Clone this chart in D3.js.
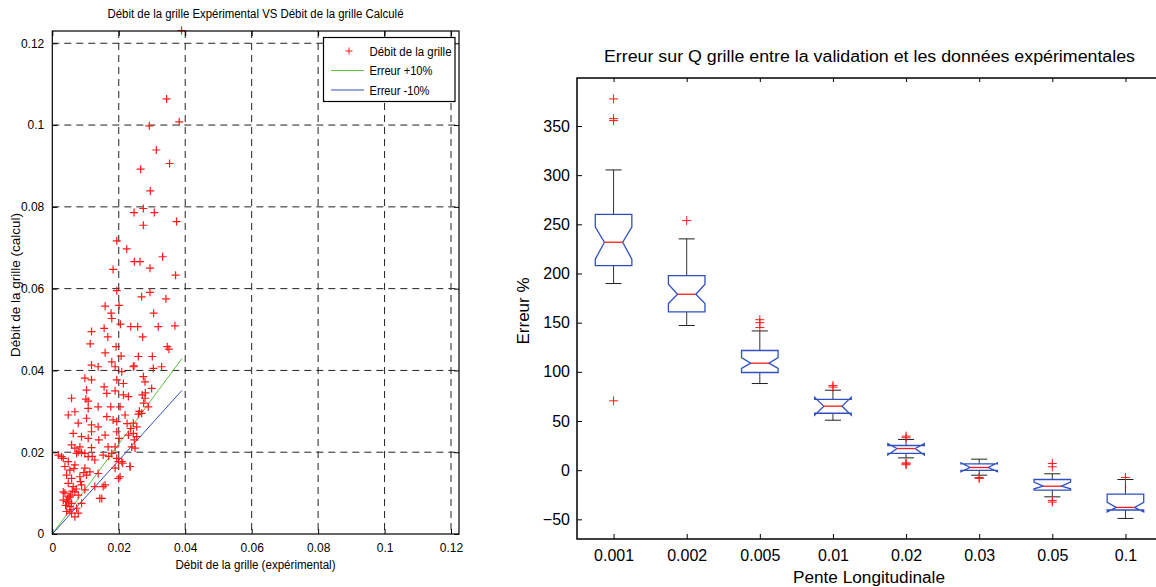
<!DOCTYPE html>
<html>
<head>
<meta charset="utf-8">
<script src="https://cdn.jsdelivr.net/npm/d3@7"></script>
<style>
  body { margin: 0; background: #fff; }
  svg { font-family: "Liberation Sans", Arial, sans-serif; }
</style>
</head>
<body>
<svg id="chart" width="1156" height="587"></svg>
<script>
// --- left chart: débit expérimental vs calculé (x, y pairs) ---
let debitExp = [
  0.0389,0.0344,0.0382,0.0292,0.0313,0.0353,0.0266,0.0295,
  0.0246,0.0274,0.0307,0.0274,0.0374,0.0194,0.0224,0.0247,0.0264,0.0332,0.0183,0.0294,0.0371,
  0.0194,0.0269,0.0294,0.0342,0.0159,0.0201,0.0177,0.0179,0.0305,0.0205,0.0156,0.0118,0.0236,
  0.0257,0.0319,0.0369,0.0167,0.0272,0.0114,0.0192,0.0346,0.0351,0.0159,0.0207,0.0259,0.0301,
  0.0179,0.0118,0.0138,0.0246,0.0329,0.0189,0.0244,0.0304,0.0209,0.0098,0.0118,0.0194,0.0214,
  0.0274,0.0279,0.0299,0.0156,0.0103,0.0189,0.0164,0.0058,0.0101,0.0108,0.0214,0.0229,0.0271,
  0.0279,0.0275,0.0289,0.0138,0.0108,0.0176,0.0204,0.0068,0.0048,0.0164,0.0219,0.0259,0.0269,
  0.0183,0.0194,0.0103,0.0078,0.0118,0.0138,0.0244,0.0254,0.0236,0.0063,0.0088,0.0108,0.0159,
  0.0194,0.0201,0.0229,0.0244,0.0254,0.0247,0.0058,0.0068,0.0083,0.0118,0.0168,0.0189,0.0239,
  0.0078,0.0098,0.0033,0.0048,0.0018,0.0073,0.0088,0.0108,0.0128,0.0153,0.0179,0.0209,0.0234,
  0.0194,0.0038,0.0053,0.0068,0.0098,0.0113,0.0043,0.0058,0.0083,0.0103,0.0204,0.0138,0.0048,
  0.0063,0.0088,0.0128,0.0159,0.0098,0.0038,0.0053,0.0068,0.0078,0.0143,0.0033,0.0048,0.0058,
  0.0053,0.0073,0.0088,0.0043,0.0058,0.0078,0.0068,0.0028,0.0033,0.0043,0.0053,0.0149,0.0153,
  0.0199,0.0189,0.0199,0.0212,0.0234,0.0249,0.0060,0.0050,0.0040,0.0065,0.0118,0.0140,0.0170,
  0.0225,0.0262,0.0280,0.0120,0.0095,0.0085,0.0072,0.0055,0.0045
];
let debitCalc = [
  0.1231,0.1064,0.1008,0.0998,0.0939,0.0906,0.0892,0.0839,
  0.0786,0.0796,0.0786,0.0755,0.0764,0.0717,0.0697,0.0666,0.0666,0.0678,0.0647,0.0650,0.0633,
  0.0595,0.0580,0.0591,0.0575,0.0557,0.0559,0.0540,0.0527,0.0540,0.0513,0.0503,0.0495,0.0507,
  0.0507,0.0507,0.0509,0.0482,0.0482,0.0465,0.0458,0.0458,0.0452,0.0443,0.0435,0.0434,0.0434,
  0.0421,0.0413,0.0409,0.0411,0.0409,0.0409,0.0409,0.0405,0.0397,0.0381,0.0377,0.0377,0.0368,
  0.0385,0.0372,0.0356,0.0360,0.0352,0.0350,0.0344,0.0332,0.0330,0.0325,0.0340,0.0336,0.0340,
  0.0332,0.0320,0.0311,0.0311,0.0307,0.0311,0.0311,0.0299,0.0291,0.0287,0.0291,0.0293,0.0295,
  0.0279,0.0275,0.0283,0.0271,0.0267,0.0262,0.0271,0.0262,0.0258,0.0246,0.0238,0.0234,0.0242,
  0.0250,0.0234,0.0242,0.0246,0.0238,0.0230,0.0218,0.0210,0.0213,0.0211,0.0213,0.0213,0.0213,
  0.0201,0.0197,0.0185,0.0177,0.0193,0.0197,0.0199,0.0189,0.0181,0.0193,0.0197,0.0177,0.0165,
  0.0185,0.0165,0.0156,0.0169,0.0161,0.0152,0.0144,0.0136,0.0140,0.0144,0.0140,0.0148,0.0124,
  0.0116,0.0120,0.0116,0.0120,0.0108,0.0100,0.0091,0.0103,0.0095,0.0087,0.0083,0.0079,0.0075,
  0.0067,0.0063,0.0075,0.0055,0.0051,0.0051,0.0042,0.0189,0.0103,0.0079,0.0059,0.0087,0.0116,
  0.0136,0.0161,0.0177,0.0173,0.0165,0.0210,0.0105,0.0090,0.0070,0.0160,0.0250,0.0230,0.0190,
  0.0270,0.0300,0.0345,0.0190,0.0150,0.0128,0.0110,0.0095,0.0085
];
let lineXmax = 0.039;
let errPlus = 1.1, errMinus = 0.9;
let leftTicks = [0, 0.02, 0.04, 0.06, 0.08, 0.1, 0.12];

// --- right chart: boxplots of error (%) by slope ---
let pentes = ['0.001', '0.002', '0.005', '0.01', '0.02', '0.03', '0.05', '0.1'];
let q1 = [208, 161, 99.3, 57.9, 17.0, -0.3, -20.3, -40.5];
let med = [231.8, 178.9, 108.8, 65.1, 22.0, 2.7, -16.3, -37.9];
let q3 = [260.2, 197.9, 121.7, 71.9, 25.1, 6.4, -9.5, -24.4];
let notchLo = [214.5, 169.4, 103.4, 56, 15.5, -1.5, -19, -42.5];
let notchHi = [247.3, 189.1, 114.5, 74, 27, 7.5, -12.2, -32.8];
let whiskLo = [189.8, 147.1, 88.1, 50.8, 12.5, -5.1, -27.1, -49.1];
let whiskHi = [305.3, 235.2, 141.6, 81.3, 31.2, 11.2, -3.7, -9.5];
let outliers = [
  [377.5, 357.5, 355.5, 70.5],
  [253.8],
  [153, 150, 145],
  [86, 84.5],
  [34.6, 33, 7.4, 5.5, 6.5],
  [-8.4, -7.5],
  [6.8, 3.4, -30.8, -32.5],
  [-7.4]
];
let erreurTicks = [-50, 0, 50, 100, 150, 200, 250, 300, 350];

let svg = d3.select('#chart');
let red = '#ff1a1a';

function plus(g, x, y, r, w) {
  g.append('path')
    .attr('d', `M${x - r},${y}H${x + r}M${x},${y - r}V${y + r}`)
    .attr('stroke', red).attr('stroke-width', w || 1).attr('fill', 'none');
}

// ================= LEFT =================
let L = { left: 52.3, right: 459, top: 31, bottom: 534 };
let xL = d3.scaleLinear().domain([0, 0.1224]).range([L.left, L.right]);
let yL = d3.scaleLinear().domain([0, 0.123]).range([L.bottom, L.top]);
let fmt = d => d === 0 ? '0' : String(+d.toFixed(2));

let gl = svg.append('g');

// grid
leftTicks.filter(t => t > 0).forEach(t => {
  gl.append('line').attr('x1', xL(t)).attr('x2', xL(t)).attr('y1', L.top).attr('y2', L.bottom)
    .attr('stroke', '#222').attr('stroke-dasharray', '7,5');
  gl.append('line').attr('y1', yL(t)).attr('y2', yL(t)).attr('x1', L.left).attr('x2', L.right)
    .attr('stroke', '#222').attr('stroke-dasharray', '7,5');
});

// error lines
gl.append('line').attr('x1', xL(0)).attr('y1', yL(0)).attr('x2', xL(lineXmax)).attr('y2', yL(lineXmax * errPlus))
  .attr('stroke', '#5cc43c').attr('stroke-width', 1);
gl.append('line').attr('x1', xL(0)).attr('y1', yL(0)).attr('x2', xL(lineXmax)).attr('y2', yL(lineXmax * errMinus))
  .attr('stroke', '#3050b8').attr('stroke-width', 1);

// points
debitExp.forEach((x, i) => plus(gl, xL(x), yL(debitCalc[i]), 4, 1.2));

// frame + axes
gl.append('rect').attr('x', L.left).attr('y', L.top).attr('width', L.right - L.left).attr('height', L.bottom - L.top)
  .attr('fill', 'none').attr('stroke', '#000').attr('stroke-width', 1.2);

gl.append('g').attr('transform', `translate(0,${L.bottom})`)
  .call(d3.axisBottom(xL).tickValues(leftTicks).tickFormat(fmt).tickSizeInner(-5).tickSizeOuter(0).tickPadding(9))
  .call(g => g.select('.domain').remove())
  .call(g => g.selectAll('text').attr('font-size', 12).attr('fill', '#000').attr('font-family', '"Liberation Sans", Arial'));
gl.append('g').attr('transform', `translate(0,${L.top})`)
  .call(d3.axisTop(xL).tickValues(leftTicks).tickFormat('').tickSizeInner(-5).tickSizeOuter(0))
  .call(g => g.select('.domain').remove());
gl.append('g').attr('transform', `translate(${L.left},0)`)
  .call(d3.axisLeft(yL).tickValues(leftTicks).tickFormat(fmt).tickSizeInner(-5).tickSizeOuter(0).tickPadding(8))
  .call(g => g.select('.domain').remove())
  .call(g => g.selectAll('text').attr('font-size', 12).attr('fill', '#000').attr('font-family', '"Liberation Sans", Arial'));
gl.append('g').attr('transform', `translate(${L.right},0)`)
  .call(d3.axisRight(yL).tickValues(leftTicks).tickFormat('').tickSizeInner(-5).tickSizeOuter(0))
  .call(g => g.select('.domain').remove());

gl.append('text').attr('x', 255.5).attr('y', 18).attr('text-anchor', 'middle')
  .attr('font-size', 12).attr('textLength', 296).attr('lengthAdjust', 'spacingAndGlyphs')
  .text('Débit de la grille Expérimental VS Débit de la grille Calculé');
gl.append('text').attr('x', 255.5).attr('y', 569).attr('text-anchor', 'middle')
  .attr('font-size', 12).attr('textLength', 160).attr('lengthAdjust', 'spacingAndGlyphs')
  .text('Débit de la grille (expérimental)');
gl.append('text').attr('transform', 'translate(20,285) rotate(-90)').attr('text-anchor', 'middle')
  .attr('font-size', 12).attr('textLength', 144).attr('lengthAdjust', 'spacingAndGlyphs')
  .text('Débit de la grille (calcul)');

// legend
let lg = gl.append('g');
lg.append('rect').attr('x', 323.5).attr('y', 37.5).attr('width', 131.5).attr('height', 64)
  .attr('fill', '#fff').attr('stroke', '#000').attr('stroke-width', 1.2);
plus(lg, 349, 51, 3.5);
lg.append('line').attr('x1', 331).attr('x2', 364).attr('y1', 70.5).attr('y2', 70.5).attr('stroke', '#5cc43c');
lg.append('line').attr('x1', 331).attr('x2', 364).attr('y1', 90).attr('y2', 90).attr('stroke', '#3050b8');
[['Débit de la grille', 51, 82], ['Erreur +10%', 70.5, 63], ['Erreur -10%', 90, 60]].forEach(([t, y, w]) => {
  lg.append('text').attr('x', 369.5).attr('y', y + 4.5).attr('font-size', 12)
    .attr('textLength', w).attr('lengthAdjust', 'spacingAndGlyphs').text(t);
});

// ================= RIGHT =================
let R = { left: 577, right: 1162, top: 78, bottom: 539 };
let xR = d3.scaleLinear().domain([0.5, 8.5]).range([R.left, R.right]);
let yR = d3.scaleLinear().domain([-70, 398.8]).range([R.bottom, R.top]);
let gr = svg.append('g');

let bw = 0.25, nw = 0.125, cw = 0.11;
let blue = '#3050c0';
pentes.forEach((p, i) => {
  let c = i + 1;
  // whiskers
  gr.append('line').attr('x1', xR(c)).attr('x2', xR(c)).attr('y1', yR(q3[i])).attr('y2', yR(whiskHi[i])).attr('stroke', '#333');
  gr.append('line').attr('x1', xR(c)).attr('x2', xR(c)).attr('y1', yR(q1[i])).attr('y2', yR(whiskLo[i])).attr('stroke', '#333');
  gr.append('line').attr('x1', xR(c - cw)).attr('x2', xR(c + cw)).attr('y1', yR(whiskHi[i])).attr('y2', yR(whiskHi[i])).attr('stroke', '#222');
  gr.append('line').attr('x1', xR(c - cw)).attr('x2', xR(c + cw)).attr('y1', yR(whiskLo[i])).attr('y2', yR(whiskLo[i])).attr('stroke', '#222');
  // notched box
  let pts = [
    [c - bw, q1[i]], [c + bw, q1[i]], [c + bw, notchLo[i]], [c + nw, med[i]], [c + bw, notchHi[i]],
    [c + bw, q3[i]], [c - bw, q3[i]], [c - bw, notchHi[i]], [c - nw, med[i]], [c - bw, notchLo[i]]
  ];
  gr.append('path').attr('d', d3.line().x(d => xR(d[0])).y(d => yR(d[1]))(pts) + 'Z')
    .attr('fill', 'none').attr('stroke', blue).attr('stroke-width', 1.3);
  gr.append('line').attr('x1', xR(c - nw)).attr('x2', xR(c + nw)).attr('y1', yR(med[i])).attr('y2', yR(med[i]))
    .attr('stroke', red).attr('stroke-width', 1.3);
  outliers[i].forEach(v => plus(gr, xR(c), yR(v), 4.5));
});

// frame
gr.append('path').attr('d', `M${R.right},${R.top}H${R.left}V${R.bottom}H${R.right}`)
  .attr('fill', 'none').attr('stroke', '#000').attr('stroke-width', 1.5);

gr.append('g').attr('transform', `translate(${R.left},0)`)
  .call(d3.axisLeft(yR).tickValues(erreurTicks).tickSizeInner(-5).tickSizeOuter(0).tickPadding(7))
  .call(g => g.select('.domain').remove())
  .call(g => g.selectAll('text').attr('font-size', 16).attr('fill', '#000').attr('font-family', '"Liberation Sans", Arial'));
gr.append('g').attr('transform', `translate(0,${R.bottom})`)
  .call(d3.axisBottom(xR).tickValues(d3.range(1, 9)).tickFormat((d, i) => pentes[i]).tickSizeInner(-5).tickSizeOuter(0).tickPadding(11))
  .call(g => g.select('.domain').remove())
  .call(g => g.selectAll('text').attr('font-size', 16).attr('fill', '#000').attr('font-family', '"Liberation Sans", Arial'));
gr.append('g').attr('transform', `translate(0,${R.top})`)
  .call(d3.axisTop(xR).tickValues(d3.range(1, 9)).tickFormat('').tickSizeInner(-4).tickSizeOuter(0))
  .call(g => g.select('.domain').remove());

gr.append('text').attr('x', 869.5).attr('y', 62).attr('text-anchor', 'middle')
  .attr('font-size', 16).attr('textLength', 531).attr('lengthAdjust', 'spacingAndGlyphs')
  .text('Erreur sur Q grille entre la validation et les données expérimentales');
gr.append('text').attr('x', 869).attr('y', 583).attr('text-anchor', 'middle')
  .attr('font-size', 16).attr('textLength', 152).attr('lengthAdjust', 'spacingAndGlyphs')
  .text('Pente Longitudinale');
gr.append('text').attr('transform', 'translate(529,311) rotate(-90)').attr('text-anchor', 'middle')
  .attr('font-size', 16).attr('textLength', 67).attr('lengthAdjust', 'spacingAndGlyphs')
  .text('Erreur %');
</script>
</body>
</html>
